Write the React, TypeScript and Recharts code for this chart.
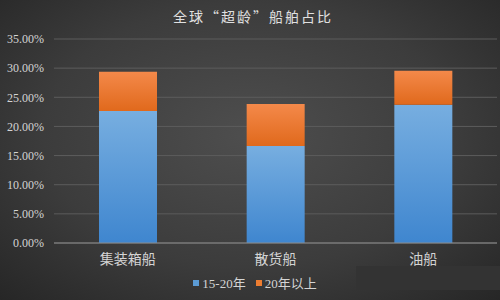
import { Bar, BarChart, CartesianGrid, XAxis, YAxis } from 'recharts'

const categories = ['集装箱船', '散货船', '油船']
const age15to20 = [22.65, 16.64, 23.73]
const over20 = [6.75, 7.21, 5.83]
const yTicks = [0, 5, 10, 15, 20, 25, 30, 35]
const seriesNames = ['15-20年', '20年以上']
const seriesColors = ['#5b9bd5', '#ed7d31']

const data = categories.map((name, i) => ({
  name,
  a: age15to20[i],
  b: over20[i],
}))

const TEXT = '#d4d4d4'
const SERIF = '"Liberation Serif", "DejaVu Serif", "Noto Sans CJK SC", serif'

export default function App() {
  return (
    <div
      style={{
        position: 'absolute',
        left: 0,
        top: 0,
        width: 500,
        height: 300,
        overflow: 'hidden',
        background:
          'radial-gradient(ellipse 75% 80% at 50% 45%, #4e4e4e 0%, #3c3c3c 55%, #242424 100%)',
      }}
    >
      <div
        style={{
          position: 'absolute',
          top: 6,
          left: 0,
          width: 506,
          textAlign: 'center',
          color: '#e0e0e0',
          fontFamily: '"Noto Sans CJK SC", sans-serif',
          fontSize: 14,
          letterSpacing: 2,
        }}
      >
        全球“超龄”船舶占比
      </div>
      <BarChart
        width={500}
        height={300}
        data={data}
        margin={{ top: 39, right: 3, bottom: 27, left: 6 }}
        barSize={58}
      >
        <defs>
          <linearGradient id="blueG" x1="0" y1="0" x2="0" y2="1">
            <stop offset="0%" stopColor="#77aee0" />
            <stop offset="100%" stopColor="#3f86cf" />
          </linearGradient>
          <linearGradient id="orangeG" x1="0" y1="0" x2="0" y2="1">
            <stop offset="0%" stopColor="#f4894a" />
            <stop offset="100%" stopColor="#e0691c" />
          </linearGradient>
        </defs>
        <CartesianGrid vertical={false} stroke="#5c5c5c" />
        <XAxis
          dataKey="name"
          height={30}
          axisLine={{ stroke: '#8a8a8a' }}
          tickLine={false}
          tick={{ fill: TEXT, fontSize: 14, fontFamily: SERIF }}
          tickMargin={5}
        />
        <YAxis
          width={48}
          domain={[0, 35]}
          ticks={yTicks}
          interval={0}
          axisLine={false}
          tickLine={false}
          tickFormatter={(v: number) => `${v.toFixed(2)}%`}
          tick={{ fill: TEXT, fontSize: 12, fontFamily: SERIF }}
          tickMargin={4}
        />
        <Bar dataKey="a" name={seriesNames[0]} stackId="s" fill="url(#blueG)" isAnimationActive={false} />
        <Bar dataKey="b" name={seriesNames[1]} stackId="s" fill="url(#orangeG)" isAnimationActive={false} />
      </BarChart>
      <div
        style={{
          position: 'absolute',
          top: 273,
          left: 0,
          width: 510,
          display: 'flex',
          justifyContent: 'center',
          gap: 10,
          fontFamily: SERIF,
          fontSize: 13,
          color: TEXT,
        }}
      >
        {seriesNames.map((n, i) => (
          <span key={n} style={{ display: 'flex', alignItems: 'center', gap: 3 }}>
            <span style={{ width: 6, height: 6, background: seriesColors[i], display: 'inline-block' }} />
            {n}
          </span>
        ))}
      </div>
      <div
        style={{
          position: 'absolute',
          left: 356,
          top: 266,
          width: 144,
          height: 24,
          background: '#333333',
        }}
      />
    </div>
  )
}
